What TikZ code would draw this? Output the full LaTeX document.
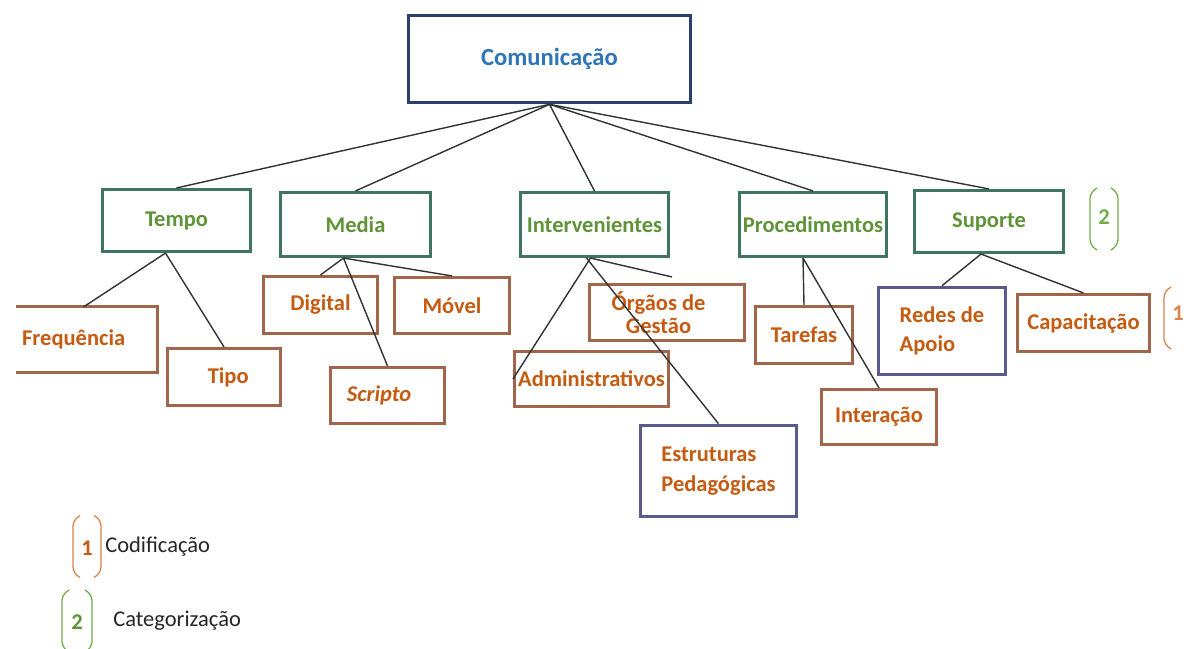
\documentclass[tikz,border=0pt]{standalone}
\usepackage{fontspec}
\setmainfont{Carlito}
\usetikzlibrary{calc}
\definecolor{rootblue}{HTML}{2E75B6}
\definecolor{rootnavy}{HTML}{2B3F6C}
\definecolor{catgreen}{HTML}{3F7560}
\definecolor{cattext}{HTML}{5E9437}
\definecolor{codebrown}{HTML}{A0654A}
\definecolor{codetext}{HTML}{C55A11}
\definecolor{pedpurple}{HTML}{5A5A8C}
\definecolor{linkgray}{HTML}{333333}
\definecolor{markgreen}{HTML}{70AD47}
\definecolor{markorange}{HTML}{D9824A}
\definecolor{legendtext}{HTML}{262626}
\tikzset
{
    wh/.style 2 args = {minimum width=#1*0.025cm, minimum height=#2*0.025cm},
    rootnode/.style = {draw=rootnavy, line width=2.6pt, text=rootblue, inner sep=0pt, align=center, font=\fontsize{17.5}{21}\selectfont\bfseries},
    catnode/.style = {draw=catgreen, line width=2.2pt, text=cattext, inner sep=0pt, align=center, font=\fontsize{16}{21}\selectfont\bfseries},
    codenode/.style = {draw=codebrown, line width=2.2pt, text=codetext, inner sep=0pt, align=center, font=\fontsize{16}{21}\selectfont\bfseries},
    pednode/.style = {codenode, draw=pedpurple, line width=2.6pt, align=left},
    link/.style = {draw=linkgray, line width=1pt},
    marknum/.style = {inner sep=0pt, font=\fontsize{16}{20}\selectfont\bfseries},
    legendlabel/.style = {anchor=west, inner sep=0pt, text=legendtext, font=\fontsize{16}{20}\selectfont}
}
% left and right bracket round a centre: x, y, half width, colour
\newcommand\markbrackets[4]{%
    \draw[#4, line width=0.9pt, rounded corners=4pt] (#1-#3+7,#2-31) -- (#1-#3,#2-26) -- (#1-#3,#2+26) -- (#1-#3+7,#2+31);
    \draw[#4, line width=0.9pt, rounded corners=4pt] (#1+#3-7,#2-31) -- (#1+#3,#2-26) -- (#1+#3,#2+26) -- (#1+#3-7,#2+31);
}
\begin{document}
\begin{tikzpicture}[x=0.025cm, y=-0.025cm]
    \useasboundingbox[fill=white] (0,0) rectangle (1184,649);
    \clip (0,0) rectangle (1184,649);
    \node [rootnode, wh={282}{87}] (com) at (549.5,59) {Comunicação};
    % categories
    \node [catnode, wh={148}{62}] (tempo) at (176.5,220.5) {Tempo};
    \node [catnode, wh={150}{64}] (media) at (355.5,224.5) {Media};
    \node [catnode, wh={148}{64}] (interv) at (594.5,224.5) {Intervenientes};
    \node [catnode, wh={147}{64}] (proced) at (813,224.5) {Procedimentos};
    \node [catnode, wh={149}{62}] (suporte) at (989,221.5) {Suporte};
    % codes
    \node [codenode, draw=none, wh={144}{62}] (freq) at (83.5,339.5) {\hspace*{-14pt}Frequência};
    \draw [codebrown, line width=2.2pt] ($(freq.north west)+(6,0)$) -- (freq.north east) -- (freq.south east) -- ($(freq.south west)+(6,0)$);
    \node [codenode, wh={113}{57}] (tipo) at (224,377) {\hspace*{6pt}Tipo};
    \node [codenode, wh={114}{57}] (digital) at (320.5,305) {Digital};
    \node [codenode, wh={115}{56}] (movel) at (452,305.5) {Móvel};
    \node [codenode, wh={114}{56}] (scripto) at (387.5,395.5) {\hspace*{-12pt}\textit{Scripto}};
    \node [codenode, wh={155}{56}] (orgaos) at (667,312.5) {\hspace*{-12pt}Órgãos de\\[-5pt]\hspace*{-12pt}Gestão};
    \node [codenode, wh={154}{55}] (admin) at (591.5,379) {Administrativos};
    \node [pednode, wh={156}{91}] (estrut) at (718.5,471) {Estruturas\\Pedagógicas};
    \node [codenode, wh={97}{57}] (tarefas) at (804,335) {Tarefas};
    \node [codenode, wh={115}{55}] (interacao) at (879,417) {Interação};
    \node [pednode, wh={127}{87}] (redes) at (942,331) {Redes de\\Apoio};
    \node [codenode, wh={132}{57}] (capac) at (1083.5,323) {Capacitação};
    % connectors
    \draw [link] (com.south) -- (tempo.north);
    \draw [link] (com.south) -- (media.north);
    \draw [link] (com.south) -- (interv.north);
    \draw [link] (com.south) -- (proced.north);
    \draw [link] (com.south) -- (suporte.north);
    \draw [link] ($(tempo.south)+(-11,0)$) -- (freq.north);
    \draw [link] ($(tempo.south)+(-11,0)$) -- (tipo.north);
    \draw [link] ($(media.south)+(-12,0)$) -- (digital.north);
    \draw [link] ($(media.south)+(-12,0)$) -- (movel.north);
    \draw [link] ($(media.south)+(-12,0)$) -- (scripto.north);
    \draw [link] ($(interv.south)+(-4,0)$) -- ($(orgaos.north)+(5,-6)$);
    \draw [link] ($(interv.south)+(-4,0)$) -- (admin.west);
    \draw [link] ($(interv.south)+(-8,0)$) -- (estrut.north);
    \draw [link] ($(proced.south)+(-10,0)$) -- (tarefas.north);
    \draw [link] ($(proced.south)+(-10,0)$) -- (interacao.north);
    \draw [link] ($(suporte.south)+(-8,0)$) -- (redes.north);
    \draw [link] ($(suporte.south)+(-8,0)$) -- (capac.north);
    % ------------------------------------------------ brackets and legend
    \markbrackets{1104}{219}{14}{markgreen}
    \node [marknum, text=markgreen] (catmark) at (1104,217) {2};
    \draw [markorange, line width=0.9pt, rounded corners=4pt] (1171,287) -- (1164,292) -- (1164,344) -- (1171,349);
    \node [marknum, text=markorange] (codmark) at (1178,313) {1};
    \markbrackets{87}{546.5}{14}{markorange}
    \node [marknum, text=codetext] (codnum) at (87,548) {1};
    \node [legendlabel] (codlabel) at (105,547) {Codificação};
    \markbrackets{77}{621}{15}{markgreen}
    \node [marknum, text=cattext] (catnum) at (77,622) {2};
    \node [legendlabel] (catlabel) at (113,621) {Categorização};
\end{tikzpicture}
\end{document}
